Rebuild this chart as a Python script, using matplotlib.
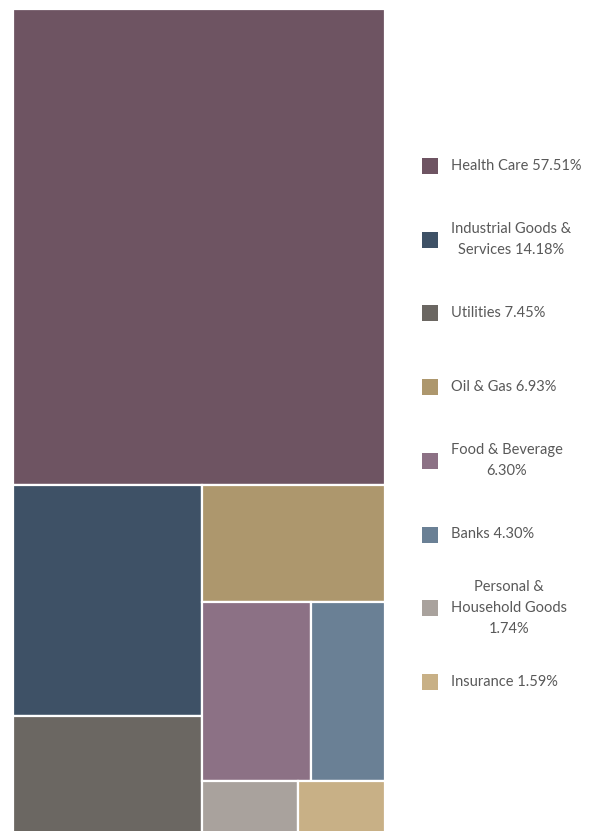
import matplotlib.pyplot as plt
from matplotlib.patches import Rectangle

sectors = ['Health Care', 'Industrial Goods & Services', 'Utilities', 'Oil & Gas',
           'Food & Beverage', 'Banks', 'Personal & Household Goods', 'Insurance']
legend_labels = ['Health Care 57.51%', 'Industrial Goods &\nServices 14.18%', 'Utilities 7.45%',
                 'Oil & Gas 6.93%', 'Food & Beverage\n6.30%', 'Banks 4.30%',
                 'Personal &\nHousehold Goods\n1.74%', 'Insurance 1.59%']
weights = [57.51, 14.18, 7.45, 6.93, 6.30, 4.30, 1.74, 1.59]
colors = ['#6e5462', '#3e5166', '#6b6762', '#ad976d', '#8c7185', '#6a8095', '#a9a29d', '#c8b086']

# nesting of the tiles: 'v' stacks top to bottom, 'h' goes left to right
tree = ('v', [0, ('h', [('v', [1, 2]), ('v', [3, ('h', [4, 5]), ('h', [6, 7])])])])


def total(node):
    if isinstance(node, int):
        return weights[node]
    return sum(total(c) for c in node[1])


def layout(node, x, y, w, h, out):
    if isinstance(node, int):
        out.append((node, x, y, w, h))
        return
    d, kids = node
    s = total(node)
    if d == 'v':
        top = y + h
        for k in kids:
            kh = h * total(k) / s
            layout(k, x, top - kh, w, kh, out)
            top -= kh
    else:
        left = x
        for k in kids:
            kw = w * total(k) / s
            layout(k, left, y, kw, h, out)
            left += kw


W, H = 595, 831
fig = plt.figure(figsize=(W / 100, H / 100), dpi=100)
ax = fig.add_axes([13 / W, -6 / H, 372 / W, 828 / H])
ax.set_xlim(0, 1)
ax.set_ylim(0, 1)
ax.axis('off')

tiles = []
layout(tree, 0, 0, 1, 1, tiles)
for i, x, y, w, h in tiles:
    ax.add_patch(Rectangle((x, y), w, h, facecolor=colors[i], edgecolor='white', linewidth=1.6))

for i, lab in enumerate(legend_labels):
    cy = 166 + i * 73.7
    fig.patches.append(Rectangle((422 / W, 1 - (cy + 8) / H), 16 / W, 16 / H,
                                 transform=fig.transFigure, facecolor=colors[i],
                                 edgecolor='none'))
    fig.text(451 / W, 1 - cy / H, lab, ha='left', va='center', multialignment='center',
             fontsize=10.5, color='#595959', family='Lato', linespacing=1.62)

fig.savefig('out.png', dpi=100)
